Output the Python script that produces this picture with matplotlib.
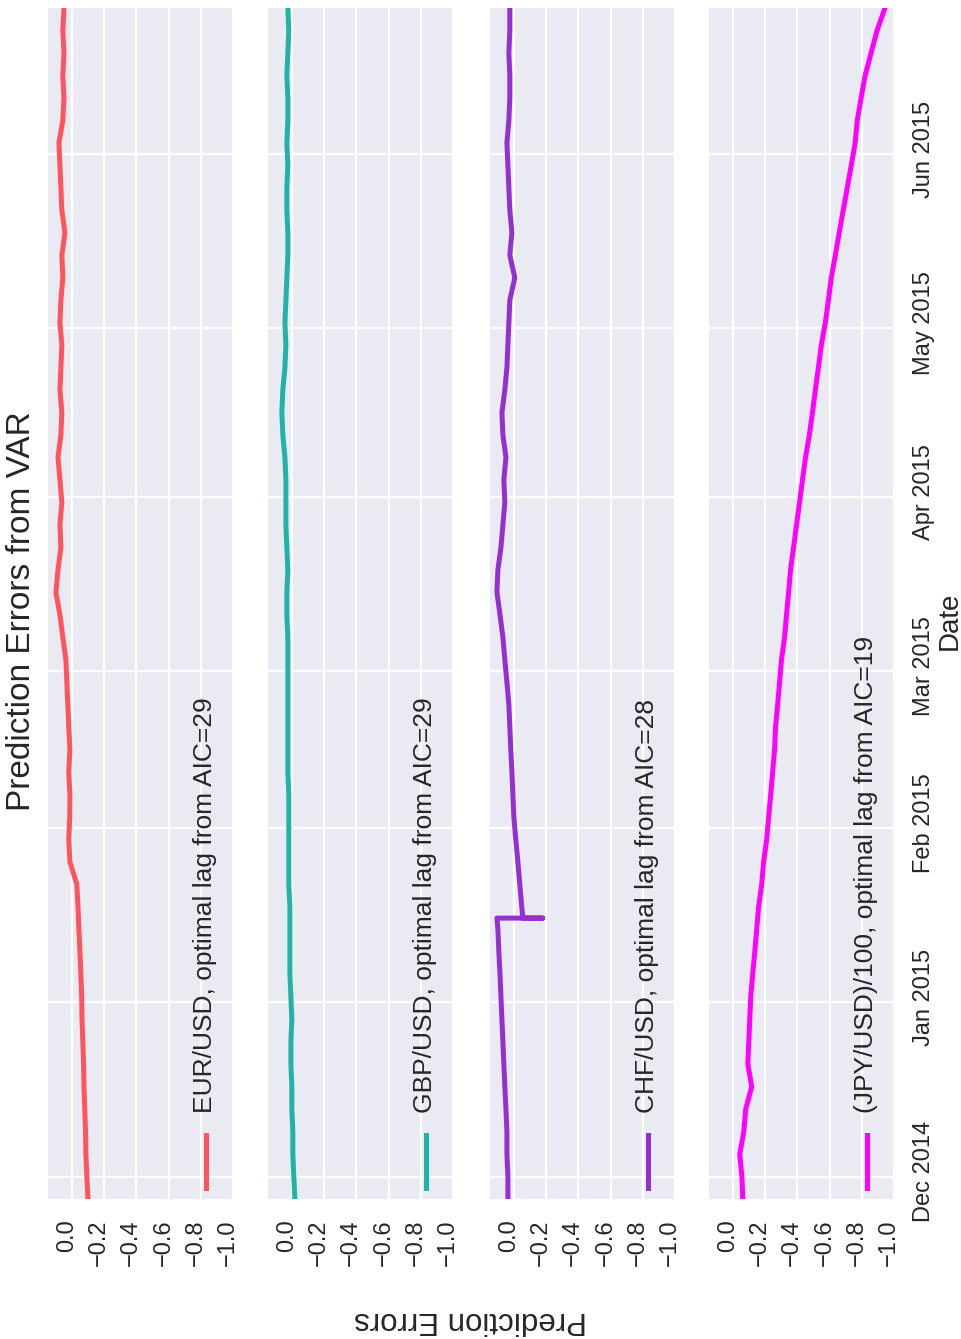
import pandas as pd
import matplotlib
matplotlib.use("Agg")
import matplotlib.pyplot as plt
from matplotlib.transforms import ScaledTranslation

plt.rcParams["font.family"] = ["Liberation Sans", "DejaVu Sans"]
plt.rcParams["axes.unicode_minus"] = True

# sampling dates for the prediction-error series (every 4 days)
dates = pd.date_range("2014-11-27", "2015-06-27", freq="4D")

eur_usd = [-0.100, -0.093, -0.087, -0.085, -0.080, -0.075, -0.073, -0.068, -0.063,
           -0.061, -0.056, -0.050, -0.044, -0.038, -0.031, 0.012, 0.019, 0.013,
           0.012, 0.019, 0.012, 0.019, 0.025, 0.031, 0.037, 0.056, 0.074, 0.099,
           0.086, 0.068, 0.074, 0.062, 0.074, 0.086, 0.068, 0.062, 0.074, 0.068,
           0.062, 0.074, 0.068, 0.056, 0.062, 0.043, 0.062, 0.068, 0.074, 0.080,
           0.056, 0.049, 0.056, 0.049, 0.056, 0.049]

gbp_usd = [-0.019, -0.012, -0.006, -0.006, 0.000, 0.000, 0.006, 0.006, 0.000,
           0.006, 0.012, 0.012, 0.012, 0.012, 0.019, 0.019, 0.019, 0.019,
           0.019, 0.025, 0.025, 0.025, 0.025, 0.025, 0.025, 0.025, 0.031, 0.031,
           0.025, 0.031, 0.037, 0.037, 0.037, 0.043, 0.056, 0.062, 0.056, 0.043,
           0.037, 0.043, 0.037, 0.031, 0.025, 0.025, 0.031, 0.031, 0.025, 0.031,
           0.025, 0.025, 0.031, 0.025, 0.019, 0.025]

chf_usd = [0.037, 0.037, 0.043, 0.043, 0.049, 0.056, 0.062, 0.068, 0.074,
           0.080, 0.086, 0.093, 0.099, -0.049, -0.037, -0.025, -0.012, 0.000,
           0.006, 0.012, 0.019, 0.025, 0.031, 0.043, 0.056, 0.068, 0.086, 0.105,
           0.099, 0.080, 0.068, 0.056, 0.062, 0.049, 0.068, 0.074, 0.056, 0.043,
           0.037, 0.031, 0.025, -0.006, 0.025, 0.012, 0.025, 0.031, 0.037, 0.043,
           0.031, 0.025, 0.025, 0.031, 0.025, 0.025]

# the franc de-peg day: error jumps out and back within the day
chf_shock_date = "2015-01-16"
chf_shock_values = [0.105, -0.179, -0.056]

jpy_usd = [-0.062, -0.056, -0.043, -0.068, -0.080, -0.117, -0.093, -0.099, -0.105,
           -0.111, -0.123, -0.136, -0.148, -0.160, -0.179, -0.191, -0.210, -0.222,
           -0.235, -0.247, -0.259, -0.265, -0.278, -0.290, -0.302, -0.321, -0.333,
           -0.346, -0.358, -0.377, -0.395, -0.414, -0.432, -0.451, -0.475, -0.494,
           -0.512, -0.531, -0.549, -0.574, -0.593, -0.611, -0.636, -0.660, -0.685,
           -0.710, -0.735, -0.759, -0.772, -0.796, -0.821, -0.858, -0.895, -0.944]

series_labels = ["EUR/USD, optimal lag from AIC=29",
                 "GBP/USD, optimal lag from AIC=29",
                 "CHF/USD, optimal lag from AIC=28",
                 "(JPY/USD)/100, optimal lag from AIC=19"]
series_colors = ["#FF535D", "#22B3A8", "#9530D0", "#FF00FF"]

value_ticks = [0.0, -0.2, -0.4, -0.6, -0.8, -1.0]
value_tick_labels = ["0.0", "\u22120.2", "\u22120.4", "\u22120.6", "\u22120.8", "\u22121.0"]
month_ticks = pd.to_datetime(["2014-12-01", "2015-01-01", "2015-02-01", "2015-03-01",
                              "2015-04-01", "2015-05-01", "2015-06-01"])
month_tick_labels = ["Dec 2014", "Jan 2015", "Feb 2015", "Mar 2015",
                     "Apr 2015", "May 2015", "Jun 2015"]

# assemble the CHF series with the intraday shock
chf = pd.Series(chf_usd, index=dates)
shock_ts = pd.Timestamp(chf_shock_date)
shock = pd.Series(chf_shock_values, index=pd.DatetimeIndex([shock_ts] * 3))
chf = pd.concat([chf[chf.index < shock_ts], shock, chf[chf.index > shock_ts]])

panels = [pd.Series(eur_usd, index=dates), pd.Series(gbp_usd, index=dates),
          chf, pd.Series(jpy_usd, index=dates)]

W, H = 961, 1339
fig = plt.figure(figsize=(W / 100, H / 100), dpi=100)
fig.patch.set_facecolor("white")


def fx(px):
    return px / W


def fy(py):
    return 1 - py / H


ax_left = [48, 268, 490, 709]
ax_w = 185
ax_top, ax_bot = 8, 1199
text_color = "#262626"

for i, (s, lab, col) in enumerate(zip(panels, series_labels, series_colors)):
    L = ax_left[i]
    ax = fig.add_axes([fx(L), fy(ax_bot), ax_w / W, (ax_bot - ax_top) / H])
    ax.set_facecolor("#EAEAF2")
    for sp in ax.spines.values():
        sp.set_visible(False)
    ax.grid(True, color="white", lw=1.6)
    ax.set_axisbelow(True)

    ax.plot(s.values, s.index, color=col, lw=3.6, solid_joinstyle="round")

    ax.set_xlim(0.148, -1.0)
    ax.set_ylim(dates[0], dates[-1])

    ax.set_xticks(value_ticks)
    ax.set_xticklabels(value_tick_labels, rotation=90, ha="center", va="top")
    ax.set_yticks(month_ticks)
    ax.tick_params(axis="both", length=0, labelsize=17, labelcolor=text_color)
    ax.tick_params(axis="x", pad=14.5)
    if i == 3:
        ax.yaxis.tick_right()
        ax.set_yticklabels(month_tick_labels, rotation=90, ha="left", va="center")
        ax.tick_params(axis="y", pad=13.5, labelleft=False, labelright=True,
                       length=0, labelsize=17, labelcolor=text_color)
        for t in ax.get_yticklabels():
            t.set_transform(t.get_transform() + ScaledTranslation(0, 0.05, fig.dpi_scale_trans))
    else:
        ax.tick_params(axis="y", labelleft=False, labelright=False)
    for t in ax.get_xticklabels():
        t.set_transform(t.get_transform() + ScaledTranslation(-0.05, 0, fig.dpi_scale_trans))

    # legend: short vertical handle with the label rotated above it
    hx = L + 158
    fig.add_artist(plt.Line2D([fx(hx), fx(hx)], [fy(1188), fy(1135)],
                              transform=fig.transFigure, color=col, lw=3.6))
    fig.text(fx(hx - 1), fy(1113), lab, rotation=90, ha="center", va="bottom",
             fontsize=19, color=text_color)

fig.text(fx(22), fy(611), "Prediction Errors from VAR", rotation=90,
         ha="center", va="center", fontsize=24, color=text_color)
fig.text(fx(950), fy(621), "Date", rotation=90, ha="center", va="center",
         fontsize=20, color=text_color)
fig.text(fx(471), fy(1320), "Prediction Errors", rotation=180, ha="center",
         va="center", fontsize=22.5, color=text_color)

fig.savefig("out.png", dpi=100, facecolor="white")
